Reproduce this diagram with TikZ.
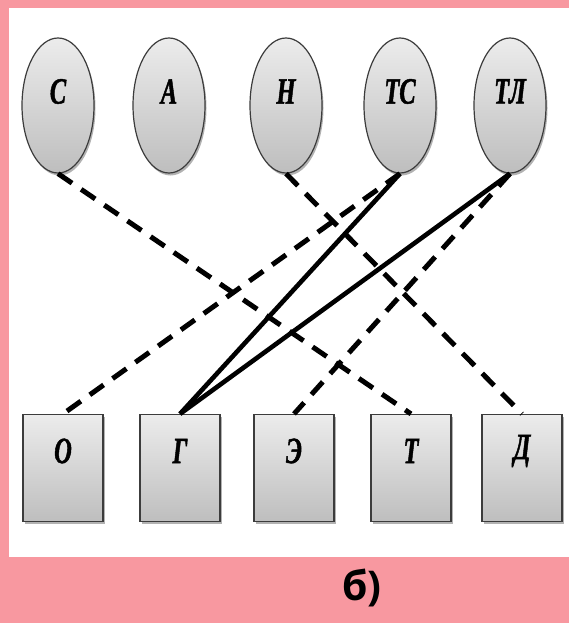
\documentclass[tikz,border=0pt]{standalone}
\usepackage{fontspec}
\newfontfamily\diagfont{Liberation Serif}[FakeStretch=0.66, BoldItalicFeatures={FakeBold=1.2}]
\newfontfamily\capfont{Open Sans}
\usetikzlibrary{shapes.geometric,shadows}
\definecolor{bgpink}{RGB}{248,152,160}
\definecolor{edgegray}{RGB}{60,60,60}
\definecolor{filltop}{RGB}{236,236,236}
\definecolor{fillbot}{RGB}{190,190,190}
\tikzset{
  shadowed/.style={drop shadow={shadow xshift=1.5pt, shadow yshift=-2.5pt, opacity=0.3, fill=black}},
  ellnode/.style={ellipse, draw=edgegray, line width=1.2pt, minimum width=72pt, minimum height=135pt,
    inner sep=0pt, top color=filltop, bottom color=fillbot, shadowed},
  boxnode/.style={rectangle, draw=edgegray, line width=1.2pt, minimum width=80pt, minimum height=107pt,
    inner sep=0pt, top color=filltop, bottom color=fillbot, shadowed},
  lettertext/.style={font=\diagfont\bfseries\itshape\fontsize{37}{37}\selectfont, text=black},
  ellabel/.style={label={[lettertext, yshift=14pt]center:#1}},
  boxlabel/.style={label={[lettertext, yshift=17pt]center:#1}},
  dashedlink/.style={line width=5pt, dash pattern=on 17pt off 11pt},
  solidlink/.style={line width=4.6pt}
}
\begin{document}
\begin{tikzpicture}[x=1pt,y=-1pt]
\useasboundingbox (0,0) rectangle (569,623);
\fill[bgpink] (0,0) rectangle (569,623);
\fill[white] (9,8) rectangle (569,557);

\node[ellnode, ellabel=С] (S) at (58,105.5) {};
\node[ellnode, ellabel=А] (A) at (169,105.5) {};
\node[ellnode, ellabel=Н] (N) at (286,105.5) {};
\node[ellnode, ellabel=ТС] (TS) at (400,105.5) {};
\node[ellnode, ellabel=ТЛ] (TL) at (510,105.5) {};

\node[boxnode, boxlabel=О] (O) at (63,468) {};
\node[boxnode, boxlabel=Г] (G) at (180,468) {};
\node[boxnode, boxlabel=Э] (E) at (294,468) {};
\node[boxnode, boxlabel=Т] (T) at (411,468) {};
\node[boxnode, boxlabel=Д] (D) at (522,468) {};

\draw[dashedlink] (S.south) -- (T.north);
\draw[dashedlink] (N.south) -- (D.north);
\draw[dashedlink] (TS.south) -- (O.north);
\draw[dashedlink] (TL.south) -- (E.north);
\draw[solidlink] (TS.south) -- (G.north);
\draw[solidlink] (TL.south) -- (G.north);

\node[font=\capfont\bfseries\fontsize{41}{41}\selectfont, text=black] (cap) at (362,588) {б)};
\end{tikzpicture}
\end{document}
